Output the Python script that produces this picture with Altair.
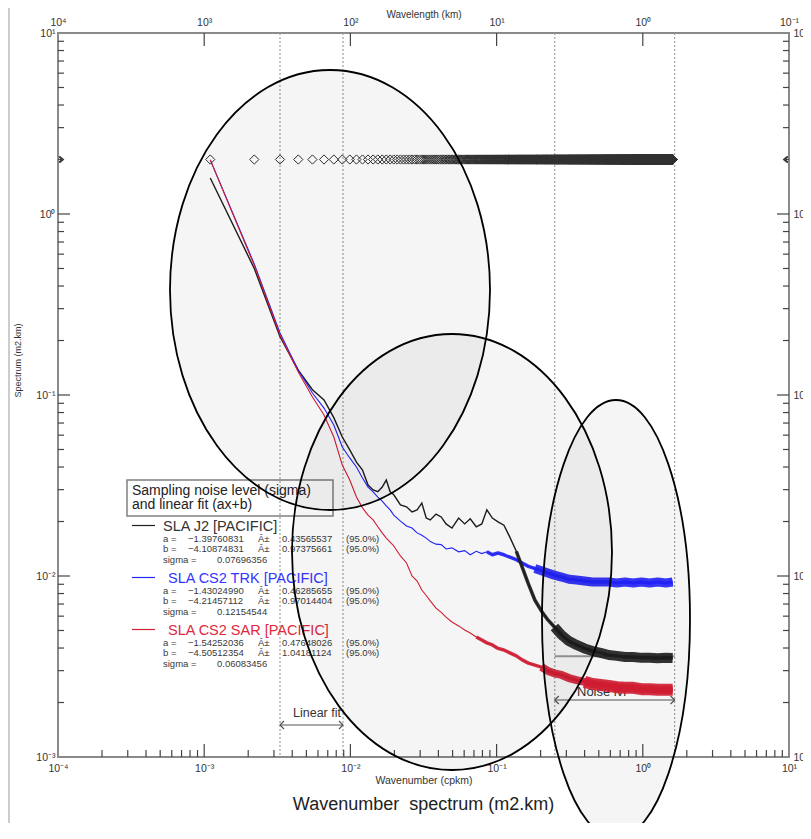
import altair as alt
import pandas as pd

FONT = "Liberation Sans"

# ---------------- values ----------------
wavenumber = [0.0011, 0.0022, 0.0033, 0.0044, 0.0055, 0.0066, 0.0077, 0.0088, 0.0099, 0.011,
              0.0121, 0.0132, 0.0143, 0.0154, 0.0165, 0.0176, 0.0187, 0.0198, 0.022, 0.0242,
              0.0264, 0.0286, 0.0308, 0.033, 0.0352, 0.0385, 0.0418, 0.0451, 0.0495, 0.055,
              0.0605, 0.066, 0.0726, 0.0792, 0.0858, 0.0935, 0.1023, 0.1122, 0.1232, 0.1364,
              0.1496, 0.165, 0.1826, 0.2024, 0.2244, 0.2486, 0.2783, 0.3124, 0.352, 0.3993,
              0.4532, 0.5148, 0.5852, 0.6655, 0.7568, 0.8613, 0.979, 1.1132, 1.2661, 1.4399, 1.6005]

sla_j2 = [1.58, 0.50, 0.21, 0.137, 0.107, 0.094, 0.075, 0.0586, 0.0497, 0.0426,
          0.0385, 0.0318, 0.0299, 0.0292, 0.0310, 0.0339, 0.0292, 0.0281, 0.0247, 0.0241,
          0.0226, 0.0232, 0.0253, 0.0209, 0.0204, 0.0220, 0.0212, 0.0194, 0.0184, 0.0209,
          0.0194, 0.0207, 0.0187, 0.0194, 0.0232, 0.0209, 0.0199, 0.0191, 0.0164, 0.0137,
          0.0112, 0.00904, 0.00737, 0.00641, 0.00572, 0.00523, 0.00472, 0.00437, 0.00416, 0.00398,
          0.00385, 0.00376, 0.00366, 0.00362, 0.00357, 0.00357, 0.00353, 0.00353, 0.00351, 0.00353, 0.00352]

sla_cs2_trk = [1.99, 0.53, 0.22, 0.137, 0.1026, 0.0847, 0.0683, 0.0516, 0.0449, 0.0400,
               0.0348, 0.0310, 0.0292, 0.0273, 0.0259, 0.0244, 0.0232, 0.0217, 0.0201, 0.0189,
               0.0184, 0.0173, 0.0168, 0.0162, 0.0155, 0.0150, 0.0149, 0.0141, 0.0143, 0.0136,
               0.0138, 0.0131, 0.0137, 0.0133, 0.0136, 0.0131, 0.0134, 0.0131, 0.0127, 0.0123,
               0.0118, 0.0113, 0.0110, 0.0107, 0.0104, 0.0101, 0.00987, 0.0096, 0.0095, 0.00938,
               0.00927, 0.00927, 0.00927, 0.00915, 0.00927, 0.00915, 0.00927, 0.00915, 0.00927, 0.00915, 0.00927]

sla_cs2_sar = [1.99, 0.52, 0.2145, 0.134, 0.0975, 0.0776, 0.0586, 0.0410, 0.0339, 0.0273,
               0.0238, 0.0217, 0.0204, 0.0187, 0.0173, 0.0162, 0.0154, 0.01465, 0.0129, 0.0118,
               0.0100, 0.00938, 0.00837, 0.00780, 0.00728, 0.00665, 0.00630, 0.00593, 0.00557, 0.00530,
               0.00503, 0.00484, 0.00460, 0.00443, 0.00427, 0.00416, 0.00398, 0.00390, 0.00376, 0.00362,
               0.00344, 0.00330, 0.00322, 0.00314, 0.00299, 0.00290, 0.00284, 0.00273, 0.00266, 0.00260,
               0.00253, 0.00250, 0.00247, 0.00243, 0.00241, 0.00241, 0.00237, 0.00237, 0.00235, 0.00235, 0.00235]

series_names = ["SLA J2 [PACIFIC]", "SLA CS2 TRK [PACIFIC]", "SLA CS2 SAR [PACIFIC]"]
series_values = [sla_j2, sla_cs2_trk, sla_cs2_sar]

fit_a = ["−1.39760831", "−1.43024990", "−1.54252036"]
fit_a_err = ["0.43565537", "0.46285655", "0.47648026"]
fit_b = ["−4.10874831", "−4.21457112", "−4.50512354"]
fit_b_err = ["0.97375661", "0.97014404", "1.04181124"]
fit_sigma = ["0.07696356", "0.12154544", "0.06083456"]

# spectral grid markers (diamonds): resolution dk and number of bins
diamond_level = 2.0
diamond_step = 0.0011
diamond_count = 1455

marker_wavenumbers = [0.0033, 0.0089, 0.25, 1.65]
linear_fit_band = [0.0033, 0.0089]
noise_band = [0.25, 1.65]
j2_noise_level = 0.0036

x_ticks = [1e-4, 1e-3, 1e-2, 1e-1, 1, 10]
x_tick_text = ["10⁻⁴", "10⁻³", "10⁻²", "10⁻¹", "10⁰", "10¹"]
wl_tick_text = ["10⁴", "10³", "10²", "10¹", "10⁰", "10⁻¹"]
y_ticks = [1e-3, 1e-2, 1e-1, 1, 10]
y_tick_text = ["10⁻³", "10⁻²", "10⁻¹", "10⁰", "10¹"]
x_minor = [m * 10.0 ** e for e in range(-4, 1) for m in range(2, 10)]
y_minor = [m * 10.0 ** e for e in range(-3, 1) for m in range(2, 10)]

# ---------------- styles / layout ----------------
line_colors = ["#1e1e1e", "#2424ff", "#d81e34"]
name_colors = ["#333333", "#3535ff", "#e0283c"]
W, H = 731, 724
OX, OY = 58, 33  # plot origin on the page

xs = alt.Scale(type="log", domain=[1e-4, 10], nice=False)
ys = alt.Scale(type="log", domain=[1e-3, 10], nice=False)


def label_expr(vals, texts):
    e = f"'{texts[-1]}'"
    for v, t in reversed(list(zip(vals[:-1], texts[:-1]))):
        e = f"datum.value < {v * 3.1623:.6g} ? '{t}' : " + e
    return e


common = dict(ticks=False, tickSize=0, domain=False, grid=False, labelFont=FONT,
              labelFontSize=10.5, labelColor="#333333", labelOverlap=False, labelFlush=False,
              titleFont=FONT, titleFontWeight="normal", titleColor="#333333")

ax_bottom = alt.Axis(orient="bottom", values=x_ticks, labelExpr=label_expr(x_ticks, x_tick_text),
                     labelPadding=6, title="Wavenumber (cpkm)", titleFontSize=10.5,
                     titleY=23, titleBaseline="middle", **common)
ax_top = alt.Axis(orient="top", values=x_ticks, labelExpr=label_expr(x_ticks, wl_tick_text),
                  labelPadding=6, title="Wavelength (km)", titleFontSize=10,
                  titleY=-19, titleBaseline="middle", **common)
ax_left = alt.Axis(orient="left", values=y_ticks, labelExpr=label_expr(y_ticks, y_tick_text),
                   labelPadding=3, title="Spectrum (m2.km)", titleFontSize=9,
                   titleX=-41, titleY=327, titleAngle=270, titleBaseline="middle",
                   titleAlign="center", **common)
ax_right = alt.Axis(orient="right", values=y_ticks, labelExpr=label_expr(y_ticks, y_tick_text),
                    labelPadding=4, title="", **common)

one = pd.DataFrame({"k": [0]})
layers = []

# left page frame line
layers.append(alt.Chart(one).mark_rule(color="#9a9a9a", strokeWidth=1).encode(
    x=alt.value(-49), y=alt.value(-25), y2=alt.value(H + 66)))

# dotted marker lines
layers.append(alt.Chart(pd.DataFrame({"wn": marker_wavenumbers})).mark_rule(
    color="#a0a0a0", strokeWidth=1.2, strokeDash=[2, 2]).encode(
    x=alt.X("wn:Q", scale=xs, axis=None), y=alt.value(0), y2=alt.value(H)))

# J2 noise level line
layers.append(alt.Chart(pd.DataFrame({"a": [noise_band[0]], "b": [noise_band[1]], "v": [j2_noise_level]}))
              .mark_rule(color="#9a9a9a", strokeWidth=2).encode(
    x=alt.X("a:Q", scale=xs, axis=None), x2="b:Q", y=alt.Y("v:Q", scale=ys, axis=None)))


def txt(text, ax, ay, size, color="#333333", align="left"):
    return alt.Chart(pd.DataFrame({"t": [text]})).mark_text(
        align=align, baseline="middle", font=FONT, fontSize=size, color=color).encode(
        text="t:N", x=alt.value(ax - OX), y=alt.value(ay - OY))


# range arrows
for band, ay in [(linear_fit_band, 725), (noise_band, 700)]:
    bd = pd.DataFrame({"a": [band[0]], "b": [band[1]]})
    layers.append(alt.Chart(bd).mark_rule(color="#555555", strokeWidth=1.2).encode(
        x=alt.X("a:Q", scale=xs, axis=None), x2="b:Q", y=alt.value(ay - OY)))
    layers.append(alt.Chart(bd).mark_point(shape="M1,-1L0,0L1,1", size=64, filled=False,
                                           color="#555555", strokeWidth=1.2, opacity=1).encode(
        x=alt.X("a:Q", scale=xs, axis=None), y=alt.value(ay - OY)))
    layers.append(alt.Chart(bd).mark_point(shape="M-1,-1L0,0L-1,1", size=64, filled=False,
                                           color="#555555", strokeWidth=1.2, opacity=1).encode(
        x=alt.X("b:Q", scale=xs, axis=None), y=alt.value(ay - OY)))
layers.append(txt("Linear fit", 293, 713, 12.5))
layers.append(txt("Noise lvl", 577, 692, 13))

# spectra
frames = []
for name, vals in zip(series_names, series_values):
    frames.append(pd.DataFrame({"wn": wavenumber, "v": vals, "s": name}))
spec = pd.concat(frames, ignore_index=True)

thin_width = [1.4, 1.1, 1.1]
for i, name in enumerate(series_names):
    d = spec[spec.s == name]
    layers.append(alt.Chart(d).mark_line(color=line_colors[i], strokeWidth=thin_width[i]).encode(
        x=alt.X("wn:Q", scale=xs, axis=ax_bottom if i == 0 else None),
        y=alt.Y("v:Q", scale=ys, axis=ax_left if i == 0 else None)))

# noisy high-wavenumber part drawn as thick strokes: (series, from wavenumber, width)
noise_style = [(1, 0.085, 3.5), (1, 0.18, 9), (2, 0.072, 3.5), (2, 0.2, 8), (2, 0.39, 12),
               (0, 0.13, 3.5), (0, 0.24, 10)]
for idx, start, w in noise_style:
    d = spec[(spec.s == series_names[idx]) & (spec.wn >= start)]
    layers.append(alt.Chart(d).mark_line(color=line_colors[idx], strokeWidth=w, opacity=0.9,
                                         strokeJoin="round").encode(
        x=alt.X("wn:Q", scale=xs, axis=None), y=alt.Y("v:Q", scale=ys, axis=None)))

# diamonds on the spectral grid
diam = pd.DataFrame({"wn": [diamond_step * k for k in range(1, diamond_count + 1)],
                     "lvl": diamond_level})
layers.append(alt.Chart(diam).mark_point(shape="diamond", size=85, filled=False, color="#303030",
                                         strokeWidth=1, opacity=1).encode(
    x=alt.X("wn:Q", scale=xs, axis=ax_top), y=alt.Y("lvl:Q", scale=ys, axis=ax_right)))

lvl = pd.DataFrame({"lvl": [diamond_level]})
layers.append(alt.Chart(lvl).mark_point(shape="M-0.6,-1L0.6,0L-0.6,1", size=36, filled=False,
                                        color="#333333", opacity=1).encode(
    x=alt.value(3), y=alt.Y("lvl:Q", scale=ys, axis=None)))
layers.append(alt.Chart(lvl).mark_point(shape="M0.6,-1L-0.6,0L0.6,1", size=36, filled=False,
                                        color="#333333", opacity=1).encode(
    x=alt.value(W - 3), y=alt.Y("lvl:Q", scale=ys, axis=None)))

# inward ticks


def xticks(vals, y0, y1):
    return alt.Chart(pd.DataFrame({"v": vals})).mark_rule(color="#444444", strokeWidth=1.2).encode(
        x=alt.X("v:Q", scale=xs, axis=None), y=alt.value(y0), y2=alt.value(y1))


def yticks(vals, x0, x1):
    return alt.Chart(pd.DataFrame({"v": vals})).mark_rule(color="#444444", strokeWidth=1.2).encode(
        y=alt.Y("v:Q", scale=ys, axis=None), x=alt.value(x0), x2=alt.value(x1))


layers += [xticks(x_ticks[1:-1], H, H - 13), xticks(x_minor, H, H - 7),
           xticks(x_ticks[1:-1], 0, 13),
           yticks(y_ticks[1:-1], 0, 12), yticks(y_minor, 0, 6),
           yticks(y_ticks[1:-1], W, W - 12), yticks(y_minor, W, W - 6)]

# legend block
layers.append(alt.Chart(one).mark_rect(fillOpacity=0, stroke="#808080", strokeWidth=1.5).encode(
    x=alt.value(127 - OX), x2=alt.value(333 - OX), y=alt.value(480 - OY), y2=alt.value(516 - OY)))
layers.append(txt("Sampling noise level (sigma)", 132, 490.5, 14, "#222222"))
layers.append(txt("and linear fit (ax+b)", 132, 504.5, 14, "#222222"))

name_y = [526.5, 578.5, 630.5]
name_x = [163, 168, 168]
for i in range(3):
    y0 = name_y[i]
    layers.append(alt.Chart(one).mark_rule(color=line_colors[i], strokeWidth=1.2).encode(
        x=alt.value(132 - OX), x2=alt.value(155 - OX), y=alt.value(y0 - 1 - OY)))
    layers.append(txt(series_names[i], name_x[i], y0, 14.5, name_colors[i]))
    for dy, lab, v1, v2 in [(12, "a =", fit_a[i], fit_a_err[i]), (22, "b =", fit_b[i], fit_b_err[i])]:
        layers.append(txt(lab, 163, y0 + dy, 9.5, "#3a3a3a"))
        layers.append(txt(v1, 188, y0 + dy, 9.5, "#3a3a3a"))
        layers.append(txt("Â±", 258, y0 + dy, 9.5, "#3a3a3a"))
        layers.append(txt(v2, 282, y0 + dy, 9.5, "#3a3a3a"))
        layers.append(txt("(95.0%)", 346, y0 + dy, 9.5, "#3a3a3a"))
    layers.append(txt("sigma =", 163, y0 + 33, 9.5, "#3a3a3a"))
    layers.append(txt(fit_sigma[i], 217, y0 + 33, 9.5, "#3a3a3a"))

# big caption
layers.append(txt("Wavenumber\u00a0 spectrum (m2.km)", 423.5, 805, 18, "#222222", align="center"))

# highlight ellipses (center x, center y, semi-axis x, semi-axis y) on the page
ellipses = [(330, 290, 160, 220), (452, 552, 160, 218), (616, 619, 74, 219)]
for cx, cy, rx, ry in ellipses:
    r = rx / ry
    path = f"M0,-1A{r:.4f},1,0,1,1,0,1A{r:.4f},1,0,1,1,0,-1Z"
    layers.append(alt.Chart(one).mark_point(shape=path, size=(2 * ry) ** 2, filled=True,
                                            fill="#000000", fillOpacity=0.04, stroke="#000000",
                                            strokeWidth=1.8, strokeOpacity=1, opacity=1).encode(
        x=alt.value(cx - OX), y=alt.value(cy - OY)))

chart = alt.layer(*layers).resolve_axis(x="independent", y="independent").properties(
    width=W, height=H,
    autosize=alt.AutoSizeParams(type="none"),
    padding={"left": 50, "top": 25, "right": 14, "bottom": 66},
).configure_view(stroke="#8a8a8a", strokeWidth=2)

chart.save("out.html", embed_options={"renderer": "svg", "actions": False})
